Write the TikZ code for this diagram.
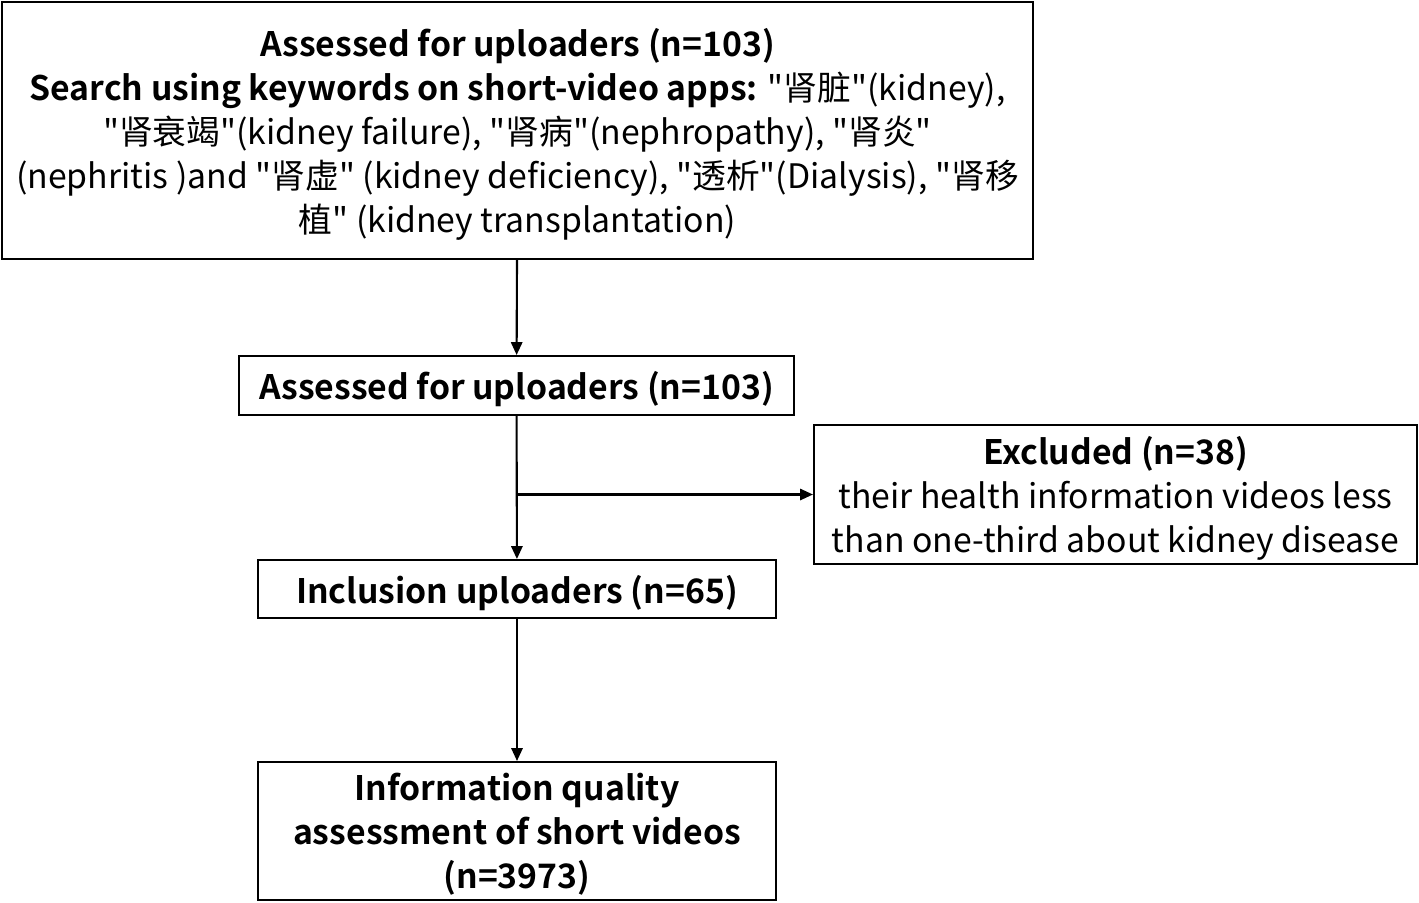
\documentclass[tikz,border=0pt]{standalone}
\usepackage{fontspec}
\newfontfamily\kfont{Noto Sans CJK SC}[BoldFont={Noto Sans CJK SC Bold}]
\usetikzlibrary{arrows.meta, positioning}
\tikzset{box/.style={draw, line width=1.4pt, align=center, inner sep=0pt, text depth=0pt, font=\kfont\fontsize{24}{31.3}\selectfont}}

\begin{document}
\begin{tikzpicture}[>={Triangle[length=0.32cm, width=0.28cm]}, line width=1.5pt, x=0.025cm, y=-0.025cm]
\useasboundingbox (0,0) rectangle (1419,902);
\node[box, minimum width=25.775cm, minimum height=6.425cm] (search) at (517.5,130.5) {\textbf{Assessed for uploaders (n=103)}\\\textbf{Search using keywords on short-video apps:} "肾脏"(kidney),\\"肾衰竭"(kidney failure), "肾病"(nephropathy), "肾炎"\\(nephritis )and "肾虚" (kidney deficiency), "透析"(Dialysis), "肾移\\植" (kidney transplantation)};
\node[box, minimum width=13.875cm, minimum height=1.475cm] (assessed) at (516.5,385.5) {\textbf{Assessed for uploaders (n=103)}};
\node[box, minimum width=15.075cm, minimum height=3.475cm] (excluded) at (1115.5,494.5) {\textbf{Excluded (n=38)}\\their health information videos less\\than one-third about kidney disease};
\node[box, minimum width=12.95cm, minimum height=1.45cm] (included) at (517,589) {\textbf{Inclusion uploaders (n=65)}};
\node[box, minimum width=12.95cm, minimum height=3.45cm] (quality) at (517,831) {\textbf{Information quality}\\\textbf{assessment of short videos}\\\textbf{(n=3973)}};
\coordinate (split) at (assessed |- excluded);
\draw[->] (search) -- (assessed);
\draw[->] (assessed) -- (included);
\draw[->] (split) -- (excluded);
\draw[->] (included) -- (quality);
\end{tikzpicture}
\end{document}
